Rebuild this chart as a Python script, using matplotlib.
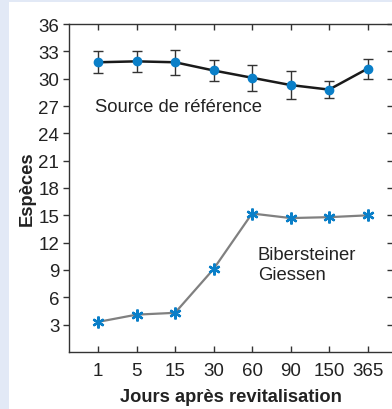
import matplotlib
matplotlib.use("Agg")
import matplotlib.pyplot as plt
from matplotlib.patches import Rectangle

days = ["1", "5", "15", "30", "60", "90", "150", "365"]
ref_values = [31.8, 31.9, 31.8, 30.9, 30.1, 29.3, 28.8, 31.1]
ref_errors = [1.2, 1.15, 1.35, 1.2, 1.45, 1.5, 0.95, 1.1]
biber_values = [3.3, 4.1, 4.3, 9.1, 15.2, 14.7, 14.8, 15.0]
yticks = [3, 6, 9, 12, 15, 18, 21, 24, 27, 30, 33, 36]

plt.rcParams['font.family'] = ['Liberation Sans', 'DejaVu Sans']

W, H = 392, 410
fig = plt.figure(figsize=(W / 100, H / 100), dpi=100)
fig.patch.set_facecolor('#e2e9f6')
fig.add_artist(Rectangle((9 / W, 0), 1, 407 / H, transform=fig.transFigure,
                         facecolor='white', edgecolor='none', zorder=0))

ax = fig.add_axes([69 / W, (410 - 353) / H, (393 - 69) / W, 328 / H])
ax.set_facecolor('none')
x = list(range(len(days)))

ax.plot(x, biber_values, color='#808080', lw=1.6, zorder=2)
ax.plot(x, biber_values, ls='none', marker=(6, 2, 0), ms=8.5, mew=1.7,
        color='#0a7fc8', zorder=3)

ax.errorbar(x, ref_values, yerr=ref_errors, fmt='none', ecolor='#333333',
            elinewidth=1.0, capsize=3.5, capthick=1.0, zorder=2)
ax.plot(x, ref_values, color='#1a1a1a', lw=1.8, zorder=3)
ax.plot(x, ref_values, ls='none', marker='o', ms=6, color='#0a7fc8', zorder=4)

ax.text(-0.08, 26.9, "Source de référence", fontsize=13.3, color='#222222',
        ha='left', va='center')
ax.text(4.15, 9.6, "Bibersteiner\nGiessen", fontsize=13.3, color='#222222',
        ha='left', va='center', linespacing=1.25)

ax.set_xlim(-0.753, 7.66)
ax.set_ylim(0, 36)
ax.set_xticks(x)
ax.set_xticklabels(days)
ax.set_yticks(yticks)

ax.tick_params(axis='both', labelsize=13.5, colors='#333333', labelcolor='#222222',
               length=4, width=1.0)
ax.tick_params(axis='x', direction='in', top=True, bottom=True, pad=7)
ax.tick_params(axis='y', direction='out', left=True, right=False, pad=3)

for side in ['left', 'top', 'bottom', 'right']:
    ax.spines[side].set_color('#333333')
    ax.spines[side].set_linewidth(1.0)

# inward ticks on the right side
ax2 = ax.twinx()
ax2.set_ylim(0, 36)
ax2.set_yticks(yticks)
ax2.set_yticklabels([])
ax2.tick_params(axis='y', direction='in', length=4, width=1.0, colors='#333333')
for s in ax2.spines.values():
    s.set_visible(False)

ax.set_xlabel("Jours après revitalisation", fontsize=13.2, fontweight='bold',
              color='#222222', labelpad=7)
ax.set_ylabel("Espèces", fontsize=13.2, fontweight='bold', color='#222222',
              labelpad=2)

fig.savefig("out.png", dpi=100)
